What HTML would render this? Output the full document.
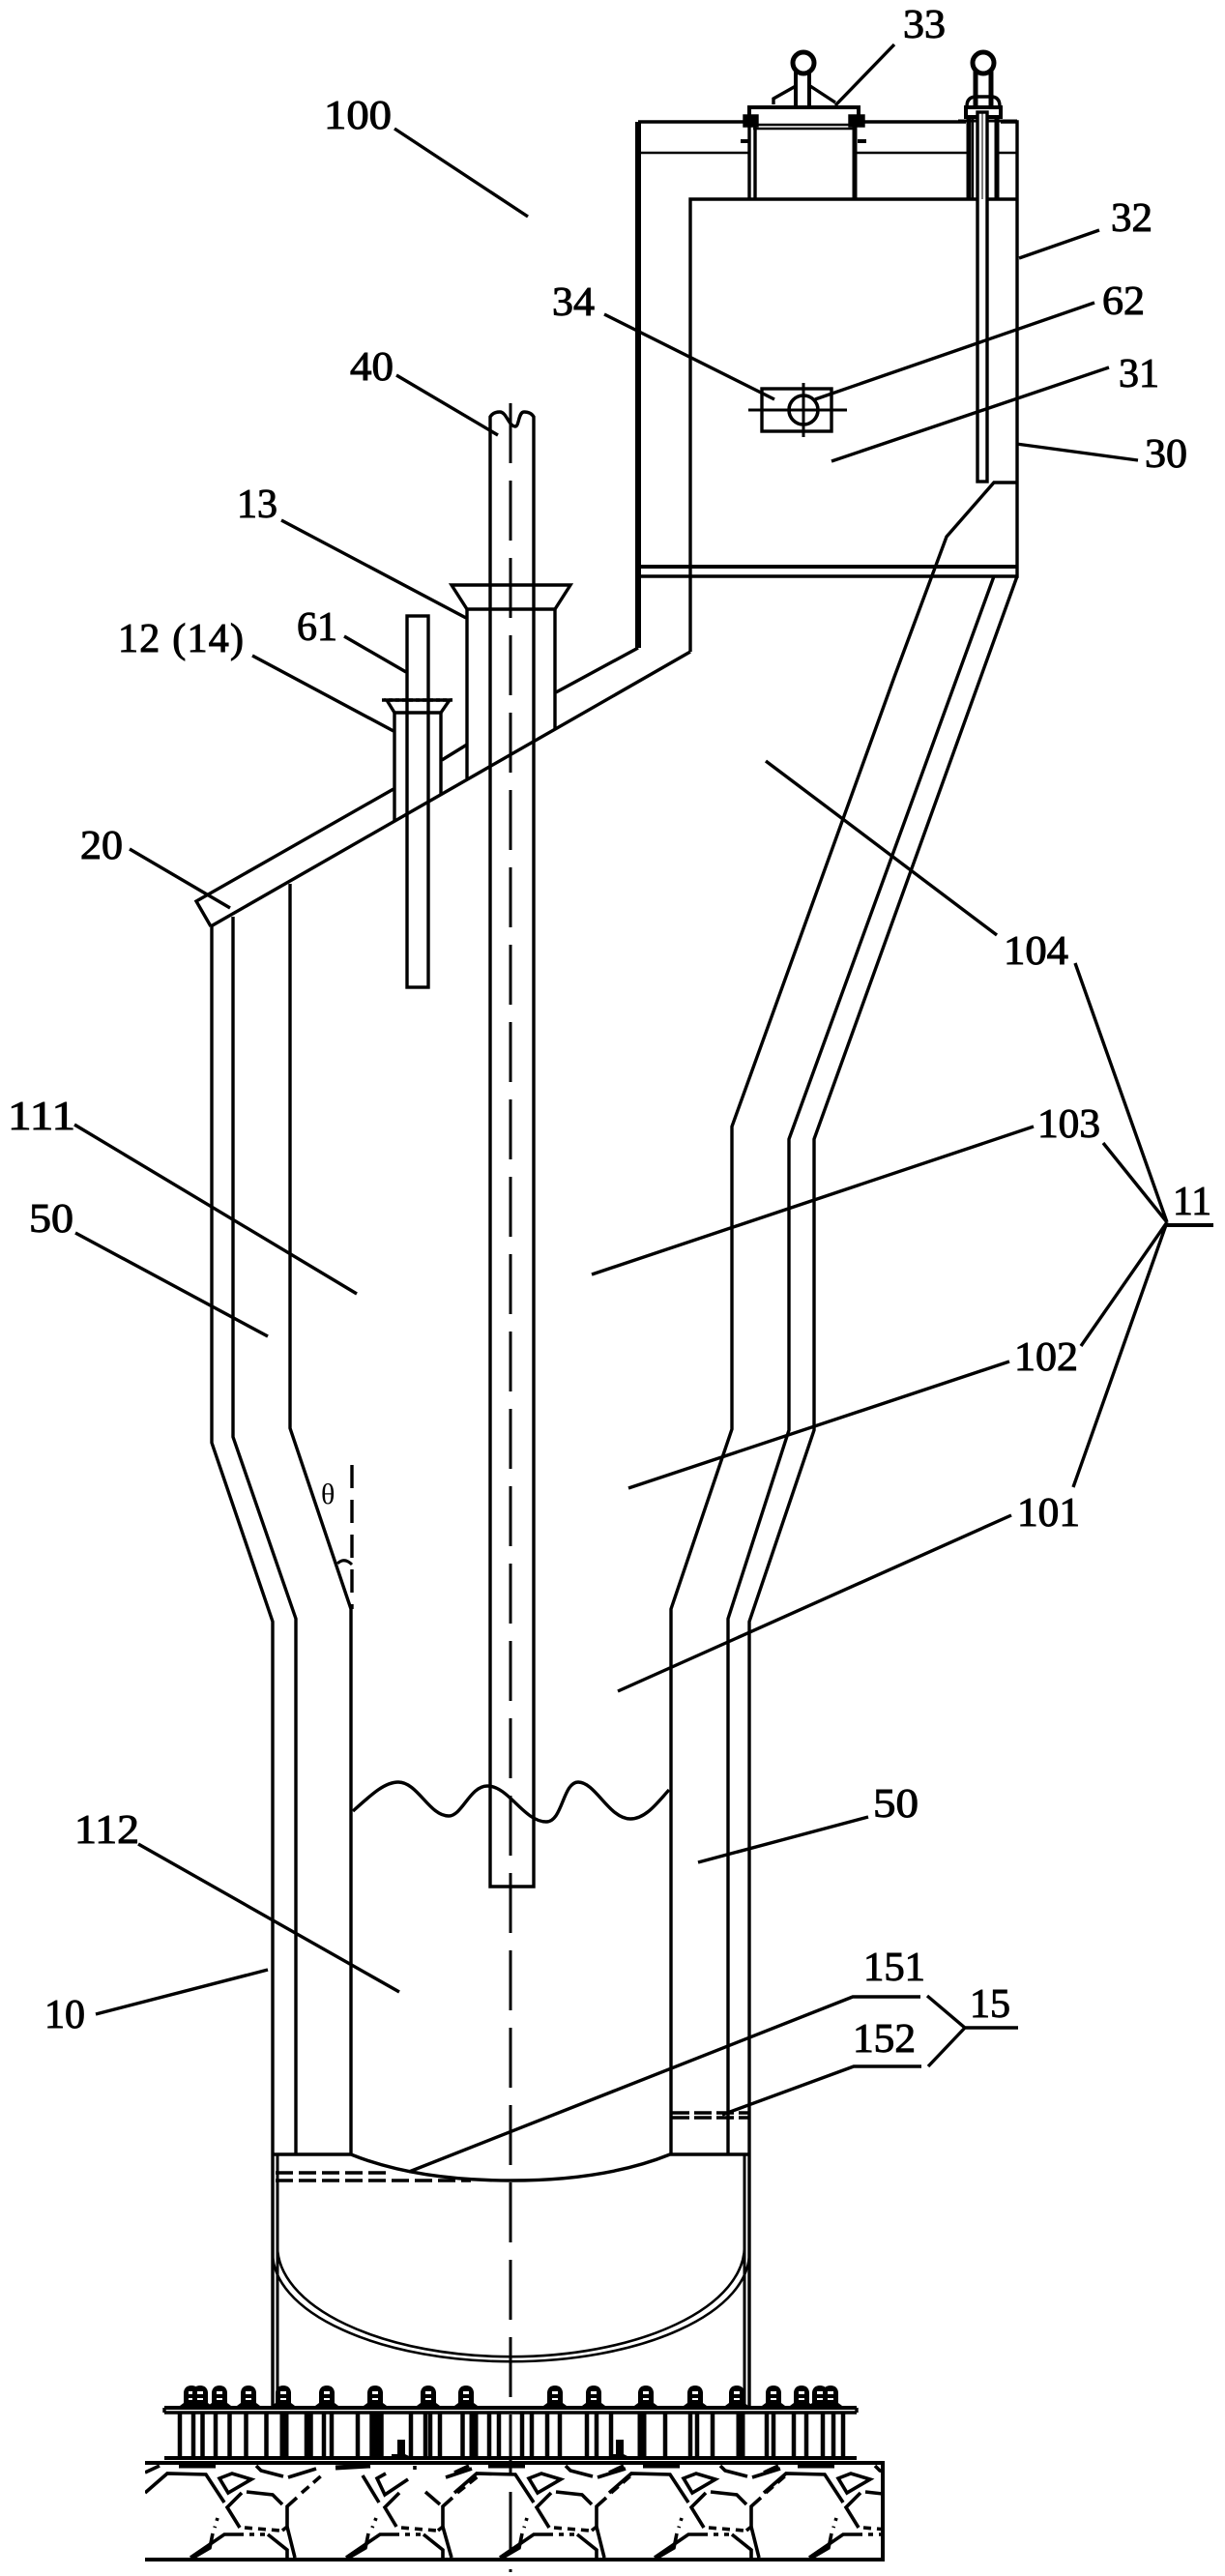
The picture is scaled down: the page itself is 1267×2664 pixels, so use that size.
<!DOCTYPE html>
<html><head><meta charset="utf-8">
<style>
html,body{margin:0;padding:0;background:#fff;width:1267px;height:2664px;overflow:hidden}
svg{display:block}
text{font-family:"Liberation Serif",serif;font-size:42px;fill:#000;stroke:#000;stroke-width:1px}
</style></head><body>
<svg width="1267" height="2664" viewBox="0 0 1267 2664" xmlns="http://www.w3.org/2000/svg">
<rect width="1267" height="2664" fill="#fff"/>
<defs>
<clipPath id="fc"><rect x="150" y="2546" width="763" height="101"/></clipPath>
<g id="bolt"><path d="M-12 1 L-12 -1 L-8 -4 L-8 -15 Q-7 -22 0 -22 Q7 -22 8 -15 L8 -4 L12 -1 L12 1 Z" fill="#000"/><rect x="-3" y="-16" width="6" height="3" fill="#fff"/><rect x="-3" y="-9" width="6" height="2" fill="#fff"/></g>
<g id="tile" fill="none" stroke="#000" stroke-width="3.6">
<path d="M150 2578 L173 2558 L213 2559 L232 2588"/>
<path d="M150 2557 L165 2550"/>
<path d="M185 2550 L223 2550" stroke-width="5"/>
<path d="M265 2550 L270 2555 L293 2561"/>
<path d="M298 2562 L327 2553"/>
<path d="M312 2578 L335 2558" stroke-dasharray="10 6"/>
<path d="M227 2563 L240 2558 L260 2564 L236 2578 Z"/>
<path d="M255 2577 L282 2580 L292 2590"/>
<path d="M250 2578 L235 2593 L248 2614"/>
<path d="M307 2583 L297 2592 L297 2613 L292 2617"/>
<path d="M297 2613 L305 2645"/>
<path d="M225 2604 L222 2614" stroke-dasharray="3 6"/>
<path d="M253 2614 L290 2617" stroke-dasharray="8 6"/>
<path d="M197 2645 L232 2621 L247 2621"/>
<path d="M247 2621 L277 2621" stroke-dasharray="5 6"/>
<path d="M277 2621 L297 2637 L297 2645"/>
<path d="M220 2620 L217 2635 L200 2645"/>
</g>
<g id="tileB" fill="none" stroke="#000" stroke-width="3.6">
<path d="M375 2560 L392 2588"/>
<path d="M347 2552 L383 2550" stroke-width="5"/>
<path d="M399 2558 L390 2563 L398 2580 L422 2564"/>
<path d="M413 2578 L398 2593 L410 2613"/>
<path d="M440 2577 L455 2590"/>
<path d="M468 2583 L458 2592 L458 2613 L453 2617"/>
<path d="M458 2613 L467 2645"/>
<path d="M461 2562 L488 2553"/>
<path d="M473 2578 L498 2558" stroke-dasharray="10 6"/>
<path d="M389 2604 L385 2614" stroke-dasharray="3 6"/>
<path d="M415 2614 L452 2617" stroke-dasharray="8 6"/>
<path d="M358 2645 L393 2621 L408 2621"/>
<path d="M408 2621 L438 2621" stroke-dasharray="5 6"/>
<path d="M438 2621 L458 2637 L458 2645"/>
<path d="M381 2620 L378 2635 L361 2645"/>
<path d="M429 2550 L429 2554"/>
</g>
</defs>

<g fill="none" stroke="#000" stroke-width="3.4" stroke-linejoin="miter">
<!-- upper chamber -->
<path d="M660 670 L660 126" stroke-width="6"/>
<path d="M660 126 L775 126 M888 126 L999 126 M1035 126 L1052 126 L1052 596 L660 596"/>
<path d="M660 158 L775 158 M885 158 L1000 158 M1031 158 L1052 158" stroke-width="2.4"/>
<path d="M714 674 L714 206 L1052 206"/>
<path d="M660 586 L1052 586" stroke-width="4"/>
<!-- lid -->
<path d="M775 126 L775 111 L888 111 L888 126" stroke-width="4"/>
<path d="M779 129 L884 129 M779 133 L884 133" stroke-width="2.6"/>
<path d="M775 129 L775 206 M781 129 L781 206"/>
<path d="M884 129 L884 206" stroke-width="5"/>
<path d="M770 120 L783 120 L783 130 L770 130 Z M879 120 L893 120 L893 130 L879 130 Z" fill="#000"/>
<path d="M766 146 L776 146 M887 146 L896 146" stroke-width="4"/>
<circle cx="831" cy="65" r="11" stroke-width="5"/>
<path d="M823 72 L823 111 M837 72 L837 111" stroke-width="4"/>
<path d="M800 108 L800 102 L823 89 M838 89 L864 106"/>
<!-- right valve -->
<circle cx="1017" cy="65" r="11" stroke-width="5"/>
<path d="M1009 72 L1009 111 M1025 72 L1025 111" stroke-width="5"/>
<path d="M1000 110 Q1000 100 1010 100 L1025 100 Q1034 100 1034 110"/>
<rect x="999" y="111" width="36" height="10" stroke-width="4"/>
<path d="M991 125 L1052 125" stroke-width="3"/>
<path d="M1002 120 L1002 206 M1031 120 L1031 206" stroke-width="5"/>
<path d="M1006 122 L1006 206" stroke-width="2.4"/>
<rect x="1011" y="116" width="10" height="382" fill="#fff"/>
<path d="M1016 116 L1016 206" stroke-width="1"/>
<!-- box 34 -->
<rect x="788" y="402" width="72" height="44" stroke-width="3.4"/>
<circle cx="831" cy="424" r="15" stroke-width="3.6"/>
<path d="M774 424 L876 424 M831 396 L831 452" stroke-width="3"/>
<!-- right ledge and slope -->
<path d="M1051 499 L1028 499 L979 555 L925 700 L757 1165 L757 1478 L694 1664 L694 2228"/>
<path d="M1028 596 L816 1178 L816 1479 L753 1674 L753 2228"/>
<path d="M1052 596 L842 1178 L842 1479 L775 1677 L775 2490"/>
<!-- left walls -->
<path d="M219 958 L219 1492 L282 1677 L282 2490"/>
<path d="M241 948 L241 1486 L306 1674 L306 2228"/>
<path d="M300 914 L300 1477 L363 1664 L363 2228"/>
<!-- roof -->
<path d="M218 958 L714 674"/>
<path d="M218 958 L203 932 L407 816 M457 786 L483 770 M575 716 L660 670"/>
<!-- nozzles -->
<path d="M408 850 L408 737 L456 737 L456 822"/>
<path d="M408 737 L400 724 L465 724 L456 737"/>
<path d="M395 724 L468 724" stroke-dasharray="4 3"/>
<rect x="421" y="637" width="22" height="384"/>
<path d="M483 805 L483 630 L574 630 L574 755"/>
<path d="M483 630 L467 605 L590 605 L574 630"/>
<!-- central pipe -->
<path d="M507 431 Q510 426 517 426 C524 426 526 441 533 441 C537 441 536 426 542 426 Q549 426 552 431 L552 1951 L507 1951 Z"/>
<!-- wave -->
<path d="M365 1873 C385 1855 398 1843 412 1843 C432 1843 444 1878 464 1878 C478 1878 486 1847 504 1847 C526 1847 542 1884 565 1884 C582 1884 582 1843 598 1843 C616 1843 630 1881 652 1881 C668 1881 680 1864 692 1851"/>
<!-- angle -->
<path d="M364 1515 L364 1664" stroke-dasharray="24 12"/>
<path d="M349 1617 Q356 1610 364 1618" stroke-width="3"/>
<!-- centerline -->
<path d="M528 417 L528 2660" stroke-dasharray="62 18" stroke-width="3"/>
<!-- bottom head -->
<path d="M282 2228 L363 2228 Q430 2255 528 2255 Q626 2255 693 2228 L775 2228"/>
<path d="M287 2228 L287 2490 M770 2228 L770 2490" stroke-width="3"/>
<path d="M287 2323 A241 114 0 0 0 770 2323" stroke-width="2.6"/>
<path d="M282 2330 A246 112 0 0 0 775 2330" stroke-width="2.6"/>
<!-- dashed -->
<path d="M285 2247 L405 2247 M285 2255 L487 2255" stroke-dasharray="18 6" stroke-width="3.4"/>
<path d="M695 2185 L775 2185 M695 2190 L775 2190" stroke-dasharray="18 5" stroke-width="3.4"/>
<!-- base -->
<path d="M170 2490 L886 2490" stroke-width="4"/>
<path d="M170 2495 L886 2495" stroke-width="3.4"/>
<path d="M170 2490 L170 2495 M886 2490 L886 2495"/>
<path d="M170 2542 L886 2542" stroke-width="4"/>
<path d="M186 2496 V2541 M200 2496 V2541 M209.500 2496 V2541 M223 2496 V2541 M237.500 2496 V2541 M254.500 2496 V2541 M275.500 2496 V2541 M294.500 2496 V2541 M317 2496 V2541 M321.500 2496 V2541 M335 2496 V2541 M343 2496 V2541 M370 2496 V2541 M384.500 2496 V2541 M394.500 2496 V2541 M425 2496 V2541 M440 2496 V2541 M445 2496 V2541 M455 2496 V2541 M478.500 2496 V2541 M490 2496 V2541 M506 2496 V2541 M516 2496 V2541 M540 2496 V2541 M550 2496 V2541 M566 2496 V2541 M579 2496 V2541 M607 2496 V2541 M617 2496 V2541 M632 2496 V2541 M664 2496 V2541 M688 2496 V2541 M714 2496 V2541 M721 2496 V2541 M737 2496 V2541 M766 2496 V2541 M793 2496 V2541 M800 2496 V2541 M821 2496 V2541 M834 2496 V2541 M851 2496 V2541 M862 2496 V2541 M872 2496 V2541" stroke-width="4.500"/>
<path d="M390 2496 V2541 M294 2496 V2541 M664 2496 V2541 M766 2496 V2541 M490 2496 V2541" stroke-width="9"/>
<path d="M150 2547 L913 2547 L913 2647 L150 2647" stroke-width="4"/>
</g>
<g fill="#000">
<use href="#bolt" x="198" y="2489"/><use href="#bolt" x="207" y="2489"/><use href="#bolt" x="227" y="2489"/><use href="#bolt" x="257" y="2489"/><use href="#bolt" x="293" y="2489"/><use href="#bolt" x="338" y="2489"/><use href="#bolt" x="388" y="2489"/><use href="#bolt" x="443" y="2489"/><use href="#bolt" x="482" y="2489"/><use href="#bolt" x="574" y="2489"/><use href="#bolt" x="614" y="2489"/><use href="#bolt" x="668" y="2489"/><use href="#bolt" x="719" y="2489"/><use href="#bolt" x="762" y="2489"/><use href="#bolt" x="800" y="2489"/><use href="#bolt" x="829" y="2489"/><use href="#bolt" x="848" y="2489"/><use href="#bolt" x="859" y="2489"/>
<path d="M405 2541 L405 2538 L411 2538 L411 2523 L419 2523 L419 2538 L425 2541 Z M631 2541 L631 2538 L637 2538 L637 2523 L645 2523 L645 2538 L651 2541 Z"/>
</g>
<g clip-path="url(#fc)">
<use href="#tile" x="0" y="0"/><use href="#tileB" x="0" y="0"/><use href="#tile" x="320" y="0"/><use href="#tile" x="480" y="0"/><use href="#tile" x="640" y="0"/>
</g>

<!-- leader lines -->
<g fill="none" stroke="#000" stroke-width="3.4">
<path d="M408 133 L546 224"/>
<path d="M925 46 L864 109"/>
<path d="M1137 238 L1054 267"/>
<path d="M1132 313 L843 413"/>
<path d="M1147 380 L860 477"/>
<path d="M1177 476 L1051 459"/>
<path d="M625 325 L801 413"/>
<path d="M410 388 L515 450"/>
<path d="M291 538 L482 639"/>
<path d="M356 658 L420 695"/>
<path d="M261 678 L407 756"/>
<path d="M134 878 L238 939"/>
<path d="M77 1163 L369 1338"/>
<path d="M78 1275 L277 1382"/>
<path d="M1069 1165 L612 1318"/>
<path d="M1044 1408 L650 1539"/>
<path d="M1046 1567 L639 1749"/>
<path d="M1031 967 L792 787"/>
<path d="M1112 996 L1207 1264 M1141 1182 L1207 1264 M1118 1392 L1207 1264 M1110 1538 L1207 1264"/>
<path d="M1207 1267 L1255 1267" stroke-width="4"/>
<path d="M898 1879 L722 1926"/>
<path d="M143 1907 L413 2060"/>
<path d="M99 2083 L277 2037"/>
<path d="M423 2246 L882 2065 L952 2065 M959 2064 L998 2097 L1053 2097 M998 2097 L960 2137 M953 2137 L883 2137 L747 2187"/>
</g>

<!-- labels -->
<text x="335" y="133" textLength="70" lengthAdjust="spacingAndGlyphs">100</text>
<text x="934" y="39" textLength="44" lengthAdjust="spacingAndGlyphs">33</text>
<text x="1149" y="239" textLength="43" lengthAdjust="spacingAndGlyphs">32</text>
<text x="1140" y="325" textLength="44" lengthAdjust="spacingAndGlyphs">62</text>
<text x="1157" y="400" textLength="42" lengthAdjust="spacingAndGlyphs">31</text>
<text x="1184" y="483" textLength="44" lengthAdjust="spacingAndGlyphs">30</text>
<text x="571" y="326" textLength="44" lengthAdjust="spacingAndGlyphs">34</text>
<text x="362" y="393" textLength="45" lengthAdjust="spacingAndGlyphs">40</text>
<text x="245" y="535" textLength="42" lengthAdjust="spacingAndGlyphs">13</text>
<text x="307" y="662" textLength="42" lengthAdjust="spacingAndGlyphs">61</text>
<text x="122" y="674" textLength="130">12 (14)</text>
<text x="83" y="888" textLength="44" lengthAdjust="spacingAndGlyphs">20</text>
<text x="8" y="1168" textLength="70" lengthAdjust="spacingAndGlyphs">111</text>
<text x="30" y="1274" textLength="46" lengthAdjust="spacingAndGlyphs">50</text>
<text x="332" y="1555" style="font-size:30px;stroke-width:0">θ</text>
<text x="1038" y="997" textLength="67" lengthAdjust="spacingAndGlyphs">104</text>
<text x="1073" y="1176" textLength="65" lengthAdjust="spacingAndGlyphs">103</text>
<text x="1049" y="1417" textLength="66" lengthAdjust="spacingAndGlyphs">102</text>
<text x="1052" y="1578" textLength="65" lengthAdjust="spacingAndGlyphs">101</text>
<text x="1213" y="1256" textLength="40" lengthAdjust="spacingAndGlyphs">11</text>
<text x="903" y="1879" textLength="47" lengthAdjust="spacingAndGlyphs">50</text>
<text x="77" y="1906" textLength="67" lengthAdjust="spacingAndGlyphs">112</text>
<text x="46" y="2097" textLength="42" lengthAdjust="spacingAndGlyphs">10</text>
<text x="893" y="2048" textLength="64" lengthAdjust="spacingAndGlyphs">151</text>
<text x="882" y="2122" textLength="65" lengthAdjust="spacingAndGlyphs">152</text>
<text x="1003" y="2086" textLength="42" lengthAdjust="spacingAndGlyphs">15</text>
</svg>
</body></html>
